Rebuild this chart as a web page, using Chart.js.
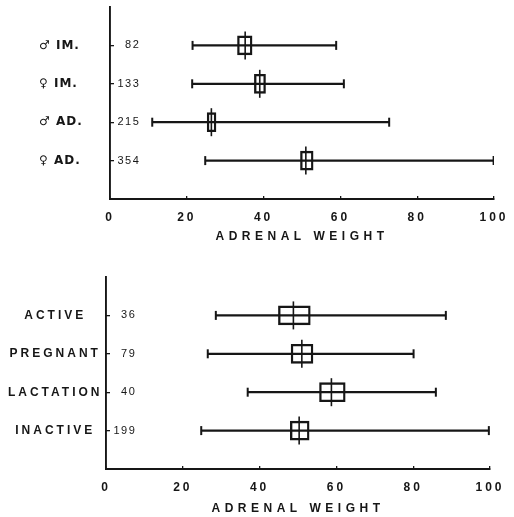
<!DOCTYPE html>
<html>
<head>
<meta charset="utf-8">
<script src="https://cdn.jsdelivr.net/npm/chart.js@4.4.1/dist/chart.umd.min.js"></script>
<style>
  html, body { margin: 0; padding: 0; background: #fff; }
  #wrap { width: 514px; height: 517px; position: relative; overflow: hidden; }
  .box { position: absolute; left: 0; width: 514px; }
  #b1 { top: 0; height: 258px; }
  #b2 { top: 258px; height: 259px; }
</style>
</head>
<body>
<div id="wrap">
  <div class="box" id="b1"><canvas id="c1"></canvas></div>
  <div class="box" id="b2"><canvas id="c2"></canvas></div>
</div>
<script>
// ---------- DATA ----------
const xTicks = [0, 20, 40, 60, 80, 100];
const axisTitle = 'ADRENAL WEIGHT';

const topCats  = ['♂ IM.', '♀ IM.', '♂ AD.', '♀ AD.'];
const topN     = ['82', '133', '215', '354'];
const topMin   = [21.5, 21.4, 11.0, 24.8];
const topMax   = [58.9, 60.9, 72.7, 99.9];
const topBoxLo = [33.2, 37.6, 25.3, 49.6];
const topBoxHi = [37.0, 40.5, 27.6, 52.9];
const topMean  = [35.2, 39.0, 26.4, 51.0];

const botCats  = ['ACTIVE', 'PREGNANT', 'LACTATION', 'INACTIVE'];
const botN     = ['36', '79', '40', '199'];
const botMin   = [28.6, 26.5, 36.9, 24.8];
const botMax   = [88.5, 80.1, 85.9, 99.7];
const botBoxLo = [44.9, 48.2, 55.6, 48.0];
const botBoxHi = [53.2, 53.9, 62.3, 52.9];
const botMean  = [48.8, 51.0, 58.7, 50.3];

// ---------- STYLE ----------
const INK = '#161616';
const FONT = "'Liberation Sans', Arial, sans-serif";
const SYMFONT = "'DejaVu Sans', 'Liberation Sans', sans-serif";

// letter spacing per scale part (drawn text only)
const spacingPlugin = {
  id: 'spacing',
  beforeDraw(chart) {
    const sp = chart.options.plugins.spacing || {};
    Object.values(chart.scales).forEach(sc => {
      if (sc.__wrapped) return;
      sc.__wrapped = true;
      const ctx = chart.ctx;
      const lab = sc.drawLabels.bind(sc);
      const tit = sc.drawTitle.bind(sc);
      sc.drawLabels = function (a) {
        ctx.save(); ctx.letterSpacing = (sp[sc.id] || '0px'); lab(a); ctx.restore();
      };
      sc.drawTitle = function (a) {
        ctx.save(); ctx.letterSpacing = (sp[sc.id + 'Title'] || '0px'); tit(a); ctx.restore();
      };
    });
  }
};

function noPad(sc) { sc.paddingTop = 0; sc.paddingBottom = 0; sc.paddingLeft = 0; sc.paddingRight = 0; }

function makeChart(canvasId, cats, ns, mins, maxs, los, his, means, cfg) {
  const rows = cats.map((_, i) => i + 1);
  const rangeData = rows.map((r, i) => ({ y: r, x: [mins[i], maxs[i]] }));
  const boxData = rows.map((r, i) => ({ y: r, x: [los[i], his[i]] }));
  const capData = [];
  rows.forEach((r, i) => { capData.push({ x: mins[i], y: r }); capData.push({ x: maxs[i], y: r }); });
  const meanData = rows.map((r, i) => ({ x: means[i], y: r }));

  return new Chart(document.getElementById(canvasId), {
    type: 'bar',
    data: {
      datasets: [
        { type: 'bar', indexAxis: 'y', data: rangeData, backgroundColor: INK, borderWidth: 0,
          barThickness: 1.5, grouped: false, yAxisID: 'y', order: 4 },
        { type: 'bar', indexAxis: 'y', data: boxData, backgroundColor: 'rgba(0,0,0,0)',
          borderColor: INK, borderWidth: 1.7, borderSkipped: false, barThickness: 19,
          grouped: false, yAxisID: 'y', order: 3 },
        { type: 'scatter', data: capData, pointStyle: 'line', rotation: 90, radius: 4.5,
          borderColor: INK, borderWidth: 2, yAxisID: 'y', order: 2 },
        { type: 'scatter', data: meanData, pointStyle: 'line', rotation: 90, radius: 14,
          borderColor: INK, borderWidth: 1.6, yAxisID: 'y', order: 1 }
      ]
    },
    options: {
      responsive: true,
      maintainAspectRatio: false,
      animation: false,
      events: [],
      layout: { autoPadding: false, padding: { top: cfg.padTop, left: cfg.padLeft, right: cfg.padRight, bottom: 0 } },
      plugins: {
        legend: { display: false },
        tooltip: { enabled: false },
        spacing: { y: cfg.nameSpacing, y2: '1.5px', x: '3px', xTitle: '4.5px' }
      },
      scales: {
        x: {
          type: 'linear', min: 0, max: 100, offset: false,
          afterBuildTicks: sc => { sc.ticks = xTicks.map(v => ({ value: v })); },
          afterFit: sc => { sc.height = cfg.xHeight; noPad(sc); },
          grid: { drawOnChartArea: false, drawTicks: true, tickLength: -3, color: INK, lineWidth: 1.3, offset: false },
          border: { display: true, color: INK, width: 1.9 },
          ticks: { color: INK, padding: 14, font: { family: FONT, size: 12, weight: 'bold' } },
          title: { display: true, text: axisTitle, color: INK, padding: { top: 0, bottom: cfg.titlePad },
                   font: { family: FONT, size: 12, weight: 'bold' } }
        },
        y: {
          type: 'linear', position: 'left', reverse: true, min: 0, max: 5, weight: 1, offset: false,
          afterBuildTicks: sc => { sc.ticks = rows.map(v => ({ value: v })); },
          afterFit: sc => { sc.width = cfg.yWidth; noPad(sc); },
          grid: { display: false, offset: false },
          border: { display: false },
          ticks: { color: INK, padding: cfg.namePad, crossAlign: cfg.nameAlign,
                   font: { family: cfg.nameFont, size: cfg.nameSize, weight: 'bold' },
                   callback: v => cats[v - 1] }
        },
        y2: {
          type: 'linear', position: 'left', reverse: true, min: 0, max: 5, weight: 0, offset: false,
          afterBuildTicks: sc => { sc.ticks = rows.map(v => ({ value: v })); },
          afterFit: sc => { sc.width = 0; noPad(sc); },
          grid: { drawOnChartArea: false, drawTicks: true, tickLength: -4, color: INK, lineWidth: 1.3, offset: false },
          border: { display: true, color: INK, width: 1.9 },
          ticks: { color: INK, mirror: true, crossAlign: 'far', padding: 12,
                   font: { family: FONT, size: 11 },
                   callback: v => ns[v - 1] }
        }
      }
    },
    plugins: [spacingPlugin]
  });
}

makeChart('c1', topCats, topN, topMin, topMax, topBoxLo, topBoxHi, topMean,
  { padTop: 7, padLeft: 39, padRight: 20, yWidth: 71, xHeight: 59, titlePad: 14,
    nameAlign: 'far', namePad: 8, nameSize: 12, nameSpacing: '1px', nameFont: SYMFONT });

makeChart('c2', botCats, botN, botMin, botMax, botBoxLo, botBoxHi, botMean,
  { padTop: 19, padLeft: 0, padRight: 24, yWidth: 106, xHeight: 48, titlePad: 1,
    nameAlign: 'center', namePad: 9, nameSize: 12, nameSpacing: '3px', nameFont: FONT });
</script>
</body>
</html>
